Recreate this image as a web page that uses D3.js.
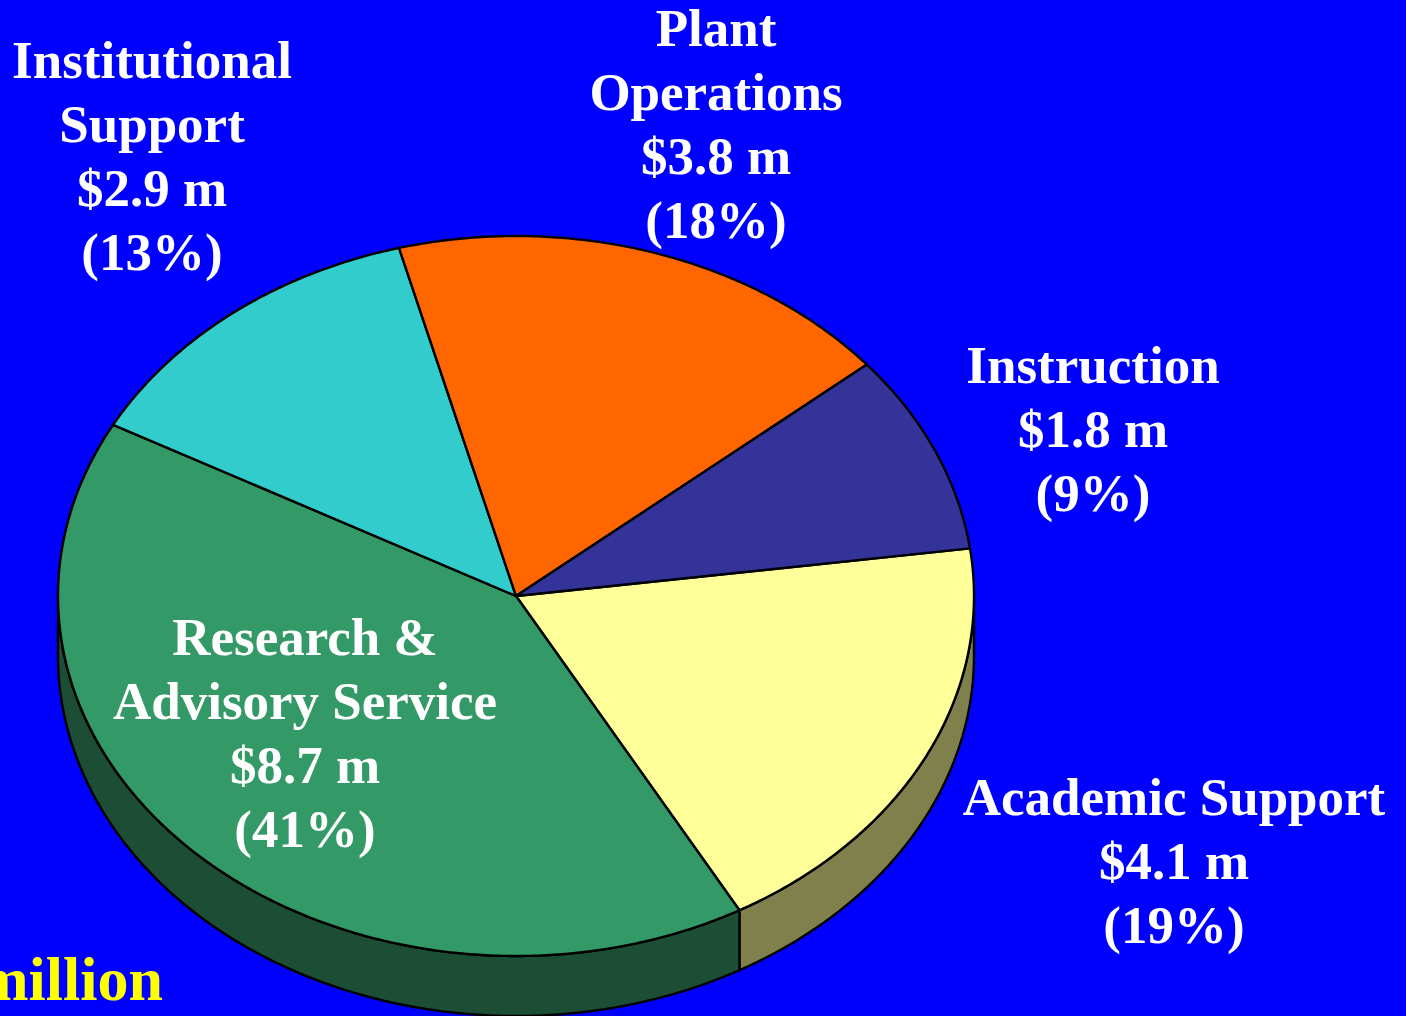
<!DOCTYPE html>
<html>
<head>
<meta charset="utf-8">
<script src="https://cdn.jsdelivr.net/npm/d3@7"></script>
<style>
  html, body { margin: 0; padding: 0; background: #0000ff; overflow: hidden; }
  text { font-family: "Liberation Serif", "Times New Roman", serif; font-weight: bold; }
</style>
</head>
<body>
<div id="container"></div>
<script>
// data
const categories = ["Academic Support", "Research & Advisory Service", "Institutional Support", "Plant Operations", "Instruction"];
const labelLines = [["Academic Support"], ["Research &", "Advisory Service"], ["Institutional", "Support"], ["Plant", "Operations"], ["Instruction"]];
const amounts = [4.1, 8.7, 2.9, 3.8, 1.8];
const percents = [19, 41, 13, 18, 9];
const topColors = ["#ffff99", "#339966", "#33cccc", "#ff6600", "#333399"];
const sideColors = ["#80804c", "#1c4e35", "#1a6666", "#803300", "#1a1a4d"];
const unitNote = "million";

// layout
const w = 1406, h = 1016;
const cx = 516, cy = 596, rx = 458, ry = 360, depth = 60;
const startDeg = 82.4;
const fontSize = 53, lineH = 64;
// label anchor (centre x, first baseline y) for each category
const labelAnchor = [[1174, 815], [305, 655], [152, 78], [716, 46], [1093, 383]];

const dataset = categories.map((c, i) => ({
  name: c, lines: labelLines[i], amount: amounts[i], pct: percents[i],
  top: topColors[i], side: sideColors[i], anchor: labelAnchor[i]
}));

const a0 = startDeg * Math.PI / 180;
const pie = d3.pie().sort(null).value(d => d.pct).startAngle(a0).endAngle(a0 + 2 * Math.PI);
const arcs = pie(dataset);

// ellipse point for a d3 angle (clockwise from 12 o'clock)
const pt = (a, dy) => [cx + rx * Math.sin(a), cy - ry * Math.cos(a) + (dy || 0)];
const sample = (s, e, dy) => {
  const n = Math.max(2, Math.ceil(Math.abs(e - s) / (Math.PI / 360)));
  return d3.range(n + 1).map(k => pt(s + (e - s) * k / n, dy));
};
const line = d3.line();

const svg = d3.select("#container")
  .append("svg")
  .attr("width", w)
  .attr("height", h);

svg.append("rect").attr("width", w).attr("height", h).attr("fill", "#0000ff");

// side walls (front half only)
arcs.forEach(function(d) {
  for (let k = 0; k < 2; k++) {
    const lo = Math.PI / 2 + k * 2 * Math.PI, hi = 3 * Math.PI / 2 + k * 2 * Math.PI;
    const s = Math.max(d.startAngle, lo), e = Math.min(d.endAngle, hi);
    if (e <= s) continue;
    const pts = sample(s, e, 0).concat(sample(e, s, depth));
    svg.append("path")
      .attr("d", line(pts) + "Z")
      .attr("fill", d.data.side)
      .attr("stroke", "#000")
      .attr("stroke-width", 2.4)
      .attr("stroke-linejoin", "round");
  }
});

// top faces
svg.selectAll("path.top")
  .data(arcs)
  .enter()
  .append("path")
  .attr("class", "top")
  .attr("d", d => line([[cx, cy]].concat(sample(d.startAngle, d.endAngle, 0))) + "Z")
  .attr("fill", d => d.data.top)
  .attr("stroke", "#000")
  .attr("stroke-width", 2.4)
  .attr("stroke-linejoin", "round");

// labels
dataset.forEach(function(d) {
  const lines = d.lines.concat(["$" + d.amount.toFixed(1) + " m", "(" + d.pct + "%)"]);
  const t = svg.append("text")
    .attr("text-anchor", "middle")
    .attr("fill", "#fff")
    .style("font-size", fontSize + "px");
  lines.forEach(function(l, i) {
    t.append("tspan")
      .attr("x", d.anchor[0])
      .attr("y", d.anchor[1] + i * lineH)
      .text(l);
  });
});

// unit note
svg.append("text")
  .attr("x", 163)
  .attr("y", 1000)
  .attr("text-anchor", "end")
  .attr("fill", "#ffff00")
  .style("font-size", "62px")
  .text(unitNote);
</script>
</body>
</html>
